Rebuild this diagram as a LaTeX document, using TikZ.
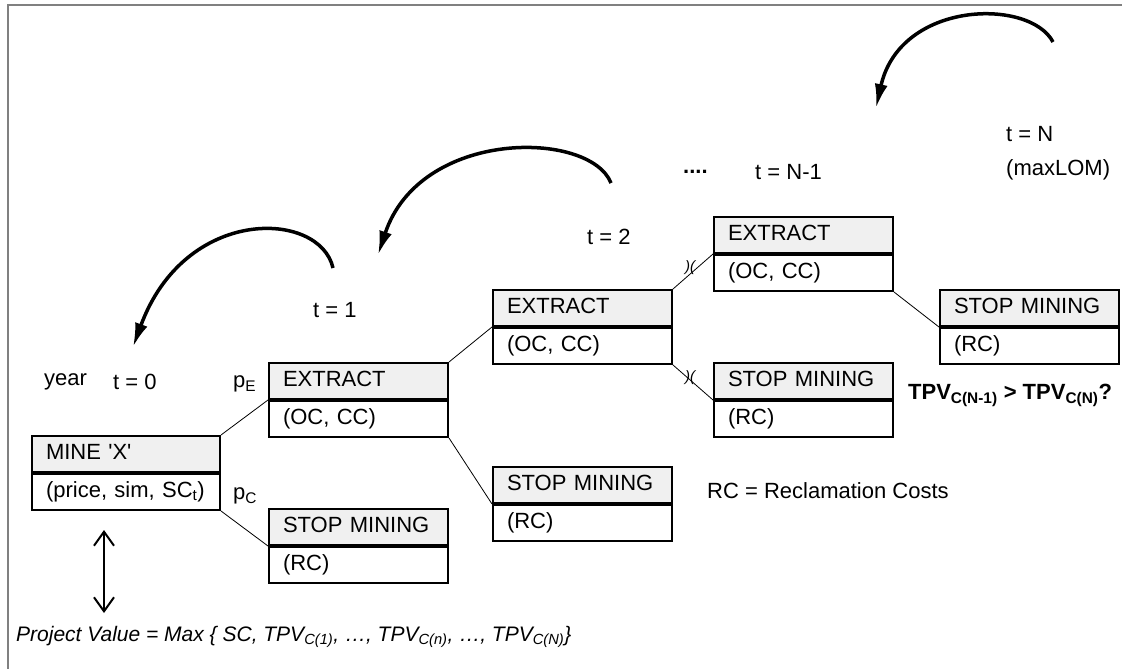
\documentclass[tikz,border=0pt]{standalone}
\usepackage{fontspec}
\setmainfont{Liberation Sans}
\usetikzlibrary{arrows.meta}
\usetikzlibrary{positioning}

\begin{document}
\begin{tikzpicture}[x=1pt,y=-1pt,
        font=\fontsize{22}{26}\selectfont,
        hdr/.style={draw,line width=2pt,fill=black!6,anchor=north west,text width=#1,
          inner xsep=14pt,inner ysep=0pt,minimum height=36pt,align=left,
          text height=16pt,text depth=5pt},
        hdr/.default=151pt,
        bdy/.style={hdr=#1,fill=white,anchor=north},
        bdy/.default=151pt,
        lbl/.style={anchor=west,inner sep=0pt},
        curv/.style={line width=3.5pt,-{Latex[length=24pt,width=13pt]}},
        branch/.style={line width=0.8pt}]
        \useasboundingbox (0,0) rectangle (1122,669);
        \draw[gray,line width=1.5pt](8,669)--(8,5)--(1122,5);
        % boxes
        \node[hdr=160pt] (mine) at (31,435){MINE \textquotesingle X\textquotesingle};
        \node[bdy=160pt, below=0pt of mine] (minev){(price, sim, SC\textsubscript{t})};
        \node[hdr] (ext1) at (268,362){EXTRACT};
        \node[bdy, below=0pt of ext1] (ext1v){(OC, CC)};
        \node[hdr] (stop1) at (268,508){STOP MINING};
        \node[bdy, below=0pt of stop1] (stop1v){(RC)};
        \node[hdr] (ext2) at (492,289){EXTRACT};
        \node[bdy, below=0pt of ext2] (ext2v){(OC, CC)};
        \node[hdr] (stop2) at (492,466){STOP MINING};
        \node[bdy, below=0pt of stop2] (stop2v){(RC)};
        \node[hdr] (ext3) at (713,216){EXTRACT};
        \node[bdy, below=0pt of ext3] (ext3v){(OC, CC)};
        \node[hdr] (stop3) at (713,362){STOP MINING};
        \node[bdy, below=0pt of stop3] (stop3v){(RC)};
        \node[hdr] (stop4) at (939,289){STOP MINING};
        \node[bdy, below=0pt of stop4] (stop4v){(RC)};
        % branches
        \draw[branch](mine.north east)--(ext1.south west);
        \draw[branch](minev.south east)--(stop1.south west);
        \draw[branch](ext1.north east)--(ext2.south west);
        \draw[branch](ext1v.south east)--(stop2.south west);
        \draw[branch](ext2.north east)--(ext3.south west);
        \draw[branch](ext2v.south east)--(stop3.south west);
        \draw[branch](ext3v.south east)--(stop4.south west);
        \node[font=\fontsize{15}{15}\selectfont\itshape] (g1) at (690,268){)(};
        \node[font=\fontsize{15}{15}\selectfont\itshape] (g2) at (690,378){)(};
        % labels
        \node[lbl] (year) at (44,382){year};
        \node[lbl] (t0) at (113,382){t = 0};
        \node[lbl] (pe) at (233,384){p\textsubscript{E}};
        \node[lbl] (pc) at (233,496){p\textsubscript{C}};
        \node[lbl] (t1) at (313,310){t = 1};
        \node[lbl] (t2) at (587,237){t = 2};
        \node[lbl,font=\fontsize{22}{26}\selectfont\bfseries] (dots) at (683,172){....};
        \node[lbl] (tn1) at (755,172){t = N-1};
        \node[lbl] (tn) at (1006,134){t = N};
        \node[lbl] (lom) at (1006,170){(maxLOM)};
        \node[lbl,font=\fontsize{22}{26}\selectfont\bfseries] (tpv) at (908,395){TPV\textsubscript{C(N-1)} > TPV\textsubscript{C(N)}?};
        \node[lbl] (rc) at (707,491){RC = Reclamation Costs};
        \node[lbl,font=\fontsize{21}{26}\selectfont\itshape] (pv) at (16,637){Project Value = Max \{ SC, TPV\textsubscript{C(1)}, …, TPV\textsubscript{C(n)}, …, TPV\textsubscript{C(N)}\}};
        % backward arrows
        \draw[curv](333,268) .. controls (320,210) and (185,205) .. (133,347);
        \draw[curv](611,183) .. controls (590,130) and (420,128) .. (378,255);
        \draw[curv](1053,42) .. controls (1030,-2) and (900,0) .. (876,108);
        \coordinate (vtop) at (104,530);
        \coordinate (vbot) at (104,613);
        \draw[line width=2pt,{Straight Barb[length=14pt,width=20pt]}-{Straight Barb[length=14pt,width=20pt]}](vtop)--(vbot);
    \end{tikzpicture}
\end{document}
